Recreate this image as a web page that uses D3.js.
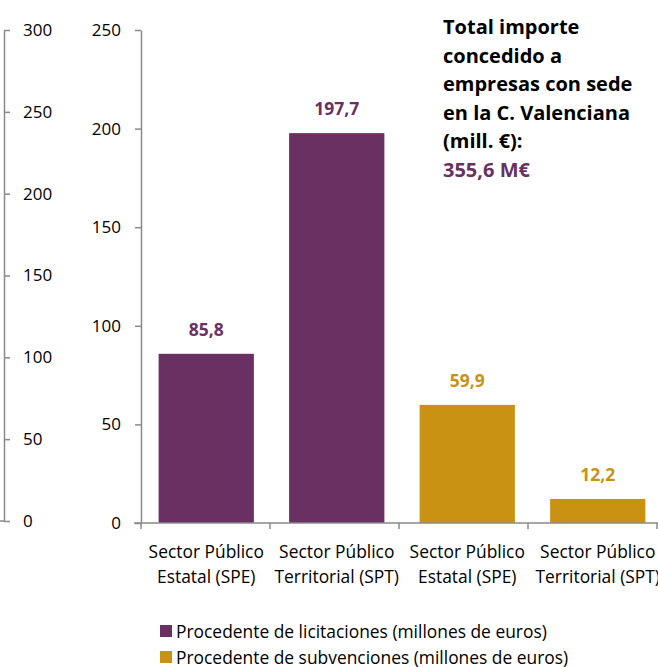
<!DOCTYPE html>
<html><head><meta charset="utf-8">
<script src="https://cdn.jsdelivr.net/npm/d3@7/dist/d3.min.js"></script>
<style>
html,body{margin:0;padding:0;background:#fff;}
svg{display:block;font-family:"Open Sans",sans-serif;}
</style></head>
<body>
<svg id="chart" width="658" height="667"></svg>
<script>
const categories = [["Sector Público","Estatal (SPE)"],["Sector Público","Territorial (SPT)"],["Sector Público","Estatal (SPE)"],["Sector Público","Territorial (SPT)"]];
const licitaciones = [85.8, 197.7, null, null];
const subvenciones = [null, null, 59.9, 12.2];
const seriesNames = ["Procedente de licitaciones (millones de euros)","Procedente de subvenciones (millones de euros)"];
const mainTicks = [0,50,100,150,200,250];
const leftTicks = [0,50,100,150,200,250,300];
const titleLines = ["Total importe","concedido a","empresas con sede","en la C. Valenciana","(mill. €):"];
const totalText = "355,6 M€";

const purple = "#6A3062", gold = "#C99212", axisCol = "#8a8a8a", txt = "#000";
const svg = d3.select("#chart");

const y = d3.scaleLinear().domain([0,250]).range([523,30]);
const yLeft = d3.scaleLinear().domain([0,300]).range([521,30]);
const x = d3.scaleBand().domain(d3.range(categories.length)).range([141,663]).paddingInner(0.27).paddingOuter(0.135);
const xTick = d3.scaleLinear().domain([0,categories.length]).range([141,657]);

// left secondary axis
const gl = svg.append("g").attr("transform","translate(4,0)")
  .call(d3.axisRight(yLeft).tickValues(leftTicks).tickSize(6).tickPadding(13).tickSizeOuter(0));
gl.select(".domain").attr("stroke",axisCol).attr("stroke-width",1.5);
gl.selectAll(".tick line").attr("stroke",axisCol).attr("stroke-width",1.5);
gl.selectAll(".tick text").attr("font-size",17).attr("fill",txt).attr("font-family","'Open Sans',sans-serif");
svg.append("line").attr("x1",0).attr("x2",4).attr("y1",yLeft(0)).attr("y2",yLeft(0)).attr("stroke",axisCol).attr("stroke-width",1.5);

// main axis
const gm = svg.append("g").attr("transform","translate(141,0)")
  .call(d3.axisLeft(y).tickValues(mainTicks).tickSize(6).tickPadding(14).tickSizeOuter(0));
gm.select(".domain").attr("stroke",axisCol).attr("stroke-width",1.5);
gm.selectAll(".tick line").attr("stroke",axisCol).attr("stroke-width",1.5);
gm.selectAll(".tick text").attr("font-size",17).attr("fill",txt).attr("font-family","'Open Sans',sans-serif");

// bars
const rows = categories.map((c,i)=>({i, v: licitaciones[i]!=null?licitaciones[i]:subvenciones[i], col: licitaciones[i]!=null?purple:gold}));
svg.append("g").selectAll("rect").data(rows).join("rect")
  .attr("x",d=>x(d.i)).attr("width",x.bandwidth())
  .attr("y",d=>y(d.v)).attr("height",d=>y(0)-y(d.v)).attr("fill",d=>d.col);

const fmt = v => d3.format(".1f")(v).replace(".",",");
svg.append("g").selectAll("text").data(rows).join("text")
  .attr("x",d=>x(d.i)+x.bandwidth()/2).attr("y",d=>y(d.v)-18)
  .attr("text-anchor","middle").attr("font-size",17.5).attr("font-weight","bold")
  .attr("fill",d=>d.col).text(d=>fmt(d.v));

// x axis
svg.append("line").attr("x1",134).attr("x2",658).attr("y1",523).attr("y2",523).attr("stroke",axisCol).attr("stroke-width",1.5);
svg.append("g").selectAll("line").data(d3.range(categories.length+1)).join("line")
  .attr("x1",d=>xTick(d)).attr("x2",d=>xTick(d)).attr("y1",523).attr("y2",529)
  .attr("stroke",axisCol).attr("stroke-width",1.5);

const cl = svg.append("g").selectAll("text").data(categories).join("text")
  .attr("text-anchor","middle").attr("font-size",17.4).attr("fill",txt);
cl.each(function(c,i){
  const t = d3.select(this);
  c.forEach((line,k)=>t.append("tspan").attr("x",x(i)+x.bandwidth()/2).attr("y",558+k*25).text(line));
});

// title block
const tt = svg.append("text").attr("font-size",20).attr("font-weight","bold").attr("fill",txt);
titleLines.forEach((l,k)=>tt.append("tspan").attr("x",443).attr("y",34+k*28.5).text(l));
svg.append("text").attr("x",443).attr("y",34+5*28.5).attr("font-size",20).attr("font-weight","bold").attr("fill",purple).text(totalText);

// legend
const lg = svg.append("g").selectAll("g").data(seriesNames).join("g")
  .attr("transform",(d,k)=>`translate(160,${625+k*26})`);
lg.append("rect").attr("width",12).attr("height",12).attr("fill",(d,k)=>k===0?purple:gold);
lg.append("text").attr("x",16).attr("y",12.5).attr("font-size",17.4).attr("fill",txt).text(d=>d);
</script>
</body></html>
